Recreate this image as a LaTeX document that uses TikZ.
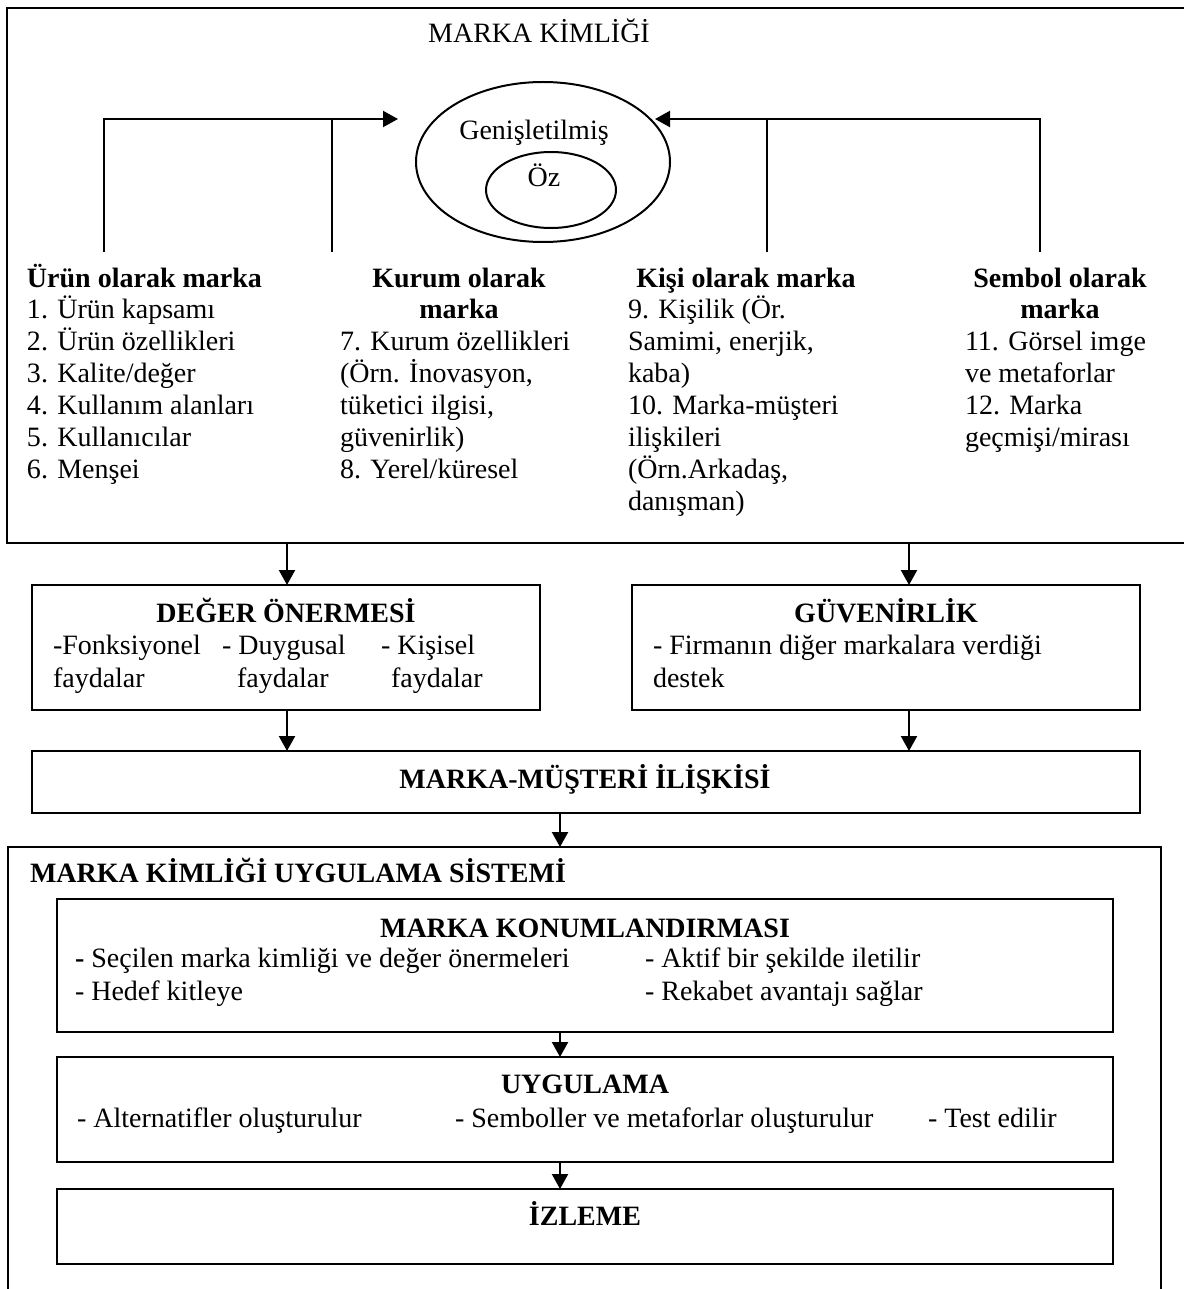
\documentclass[tikz,border=0pt]{standalone}
\usepackage{fontspec}
\setmainfont{Liberation Serif}
\usetikzlibrary{arrows.meta,shapes.geometric}
\begin{document}
\begin{tikzpicture}[x=1pt,y=-1pt,
  every node/.style={inner sep=0pt, outer sep=0pt, font=\fontsize{28}{32}\selectfont},
  line/.style={line width=2.2pt},
  arr/.style={line width=2.2pt, -{Triangle[length=15pt,width=16pt]}},
  box/.style={draw, line width=2.2pt, rectangle, inner sep=0pt},
  oval/.style={draw, line width=2pt, ellipse, inner sep=0pt},
  txt/.style={anchor=base west},
  ctr/.style={anchor=base},
  hd/.style={anchor=base, font=\fontsize{28}{32}\selectfont\bfseries},
  hdl/.style={anchor=base west, font=\fontsize{28}{32}\selectfont\bfseries}]
\useasboundingbox (0,0) rectangle (1183,1289);

% ---------- brand identity frame (open on the right) ----------
\draw[line] (1184,8) -- (7,8) -- (7,543) -- (1184,543);
\node[ctr] (title) at (539,43) {MARKA KİMLİĞİ};

% core and extended identity
\node[oval, minimum width=254pt, minimum height=160pt] (outer) at (543,162) {};
\node[oval, minimum width=130pt, minimum height=76pt] (inner) at (551,190) {};
\node[ctr] (gen) at (534,140) {Genişletilmiş};
\node[ctr] (oz) at (544,187) {Öz};

% connectors from the four perspectives
\coordinate (a1) at (104,252);
\coordinate (a2) at (332,252);
\coordinate (a3) at (767,252);
\coordinate (a4) at (1040,252);
\coordinate (lt) at (398,119);
\coordinate (rt) at (655,119);
\draw[arr] (a1) |- (lt);
\draw[line] (a2) -- (a2 |- lt);
\draw[arr] (a4) |- (rt);
\draw[line] (a3) -- (a3 |- rt);

% column 1: product
\node[hdl] (h1) at (27,287) {Ürün olarak marka};
\foreach \t [count=\i] in {{1. Ürün kapsamı},{2. Ürün özellikleri},{3. Kalite/değer},
  {4. Kullanım alanları},{5. Kullanıcılar},{6. Menşei}}
  \node[txt] (u\i) at (27,{286+32*\i}) {\t};

% column 2: organisation
\node[hd] (h2a) at (459,287) {Kurum olarak};
\node[hd] (h2b) at (459,318) {marka};
\foreach \t [count=\i] in {{7. Kurum özellikleri},{(Örn. İnovasyon,},{tüketici ilgisi,},
  {güvenirlik)},{8. Yerel/küresel}}
  \node[txt] (k\i) at (340,{318+32*\i}) {\t};

% column 3: person
\node[hd] (h3) at (746,287) {Kişi olarak marka};
\foreach \t [count=\i] in {{9. Kişilik (Ör.},{Samimi, enerjik,},{kaba)},
  {10. Marka-müşteri},{ilişkileri},{(Örn.Arkadaş,},{danışman)}}
  \node[txt] (p\i) at (628,{286+32*\i}) {\t};

% column 4: symbol
\node[hd] (h4a) at (1060,287) {Sembol olarak};
\node[hd] (h4b) at (1060,318) {marka};
\foreach \t [count=\i] in {{11. Görsel imge},{ve metaforlar},{12. Marka},{geçmişi/mirası}}
  \node[txt] (s\i) at (965,{318+32*\i}) {\t};

% ---------- value proposition and credibility ----------
\node[box, minimum width=508pt, minimum height=125pt] (deger) at (286,647.5) {};
\node[box, minimum width=508pt, minimum height=125pt] (guven) at (886,647.5) {};
\node[hd] (degt) at (286,622) {DEĞER ÖNERMESİ};
\node[txt] (d1) at (53,654) {-Fonksiyonel};
\node[txt] (d2) at (53,687) {faydalar};
\node[txt] (d3) at (222,654) {- Duygusal};
\node[txt] (d4) at (237,687) {faydalar};
\node[txt] (d5) at (381,654) {- Kişisel};
\node[txt] (d6) at (391,687) {faydalar};
\node[hd] (guvt) at (886,622) {GÜVENİRLİK};
\node[txt] (g1) at (653,654) {- Firmanın diğer markalara verdiği};
\node[txt] (g2) at (653,687) {destek};

% ---------- brand-customer relationship ----------
\node[box, minimum width=1108pt, minimum height=62pt] (mm) at (586,782) {};
\node[hd] (mmt) at (585,788) {MARKA-MÜŞTERİ İLİŞKİSİ};

\coordinate (tA) at (287,543);
\coordinate (tB) at (909,543);
\coordinate (tC) at (560,847);
\draw[arr] (tA) -- (tA |- deger.north);
\draw[arr] (tB) -- (tB |- guven.north);
\draw[arr] (deger.south -| tA) -- (mm.north -| tA);
\draw[arr] (guven.south -| tB) -- (mm.north -| tB);
\draw[arr] (mm.south -| tC) -- (tC);

% ---------- implementation system (open at the bottom) ----------
\draw[line] (8,1290) -- (8,847) -- (1161,847) -- (1161,1290);
\node[hdl] (sys) at (30,882) {MARKA KİMLİĞİ UYGULAMA SİSTEMİ};

\node[box, minimum width=1056pt, minimum height=133pt] (konum) at (585,965.5) {};
\node[hd] (kont) at (585,937) {MARKA KONUMLANDIRMASI};
\node[txt] (m1) at (75,967) {\textbf{-} Seçilen marka kimliği ve değer önermeleri};
\node[txt] (m2) at (75,1000) {- Hedef kitleye};
\node[txt] (m3) at (645,967) {- Aktif bir şekilde iletilir};
\node[txt] (m4) at (645,1000) {- Rekabet avantajı sağlar};

\node[box, minimum width=1056pt, minimum height=105pt] (uyg) at (585,1109.5) {};
\node[hd] (uygt) at (585,1093) {UYGULAMA};
\node[txt] (y1) at (77,1127) {- Alternatifler oluşturulur};
\node[txt] (y2) at (455,1127) {- Semboller ve metaforlar oluşturulur};
\node[txt] (y3) at (928,1127) {- Test edilir};

\node[box, minimum width=1056pt, minimum height=75pt] (izl) at (585,1226.5) {};
\node[hd] (izlt) at (585,1225) {İZLEME};

\draw[arr] (konum.south -| tC) -- (uyg.north -| tC);
\draw[arr] (uyg.south -| tC) -- (izl.north -| tC);
\end{tikzpicture}
\end{document}
